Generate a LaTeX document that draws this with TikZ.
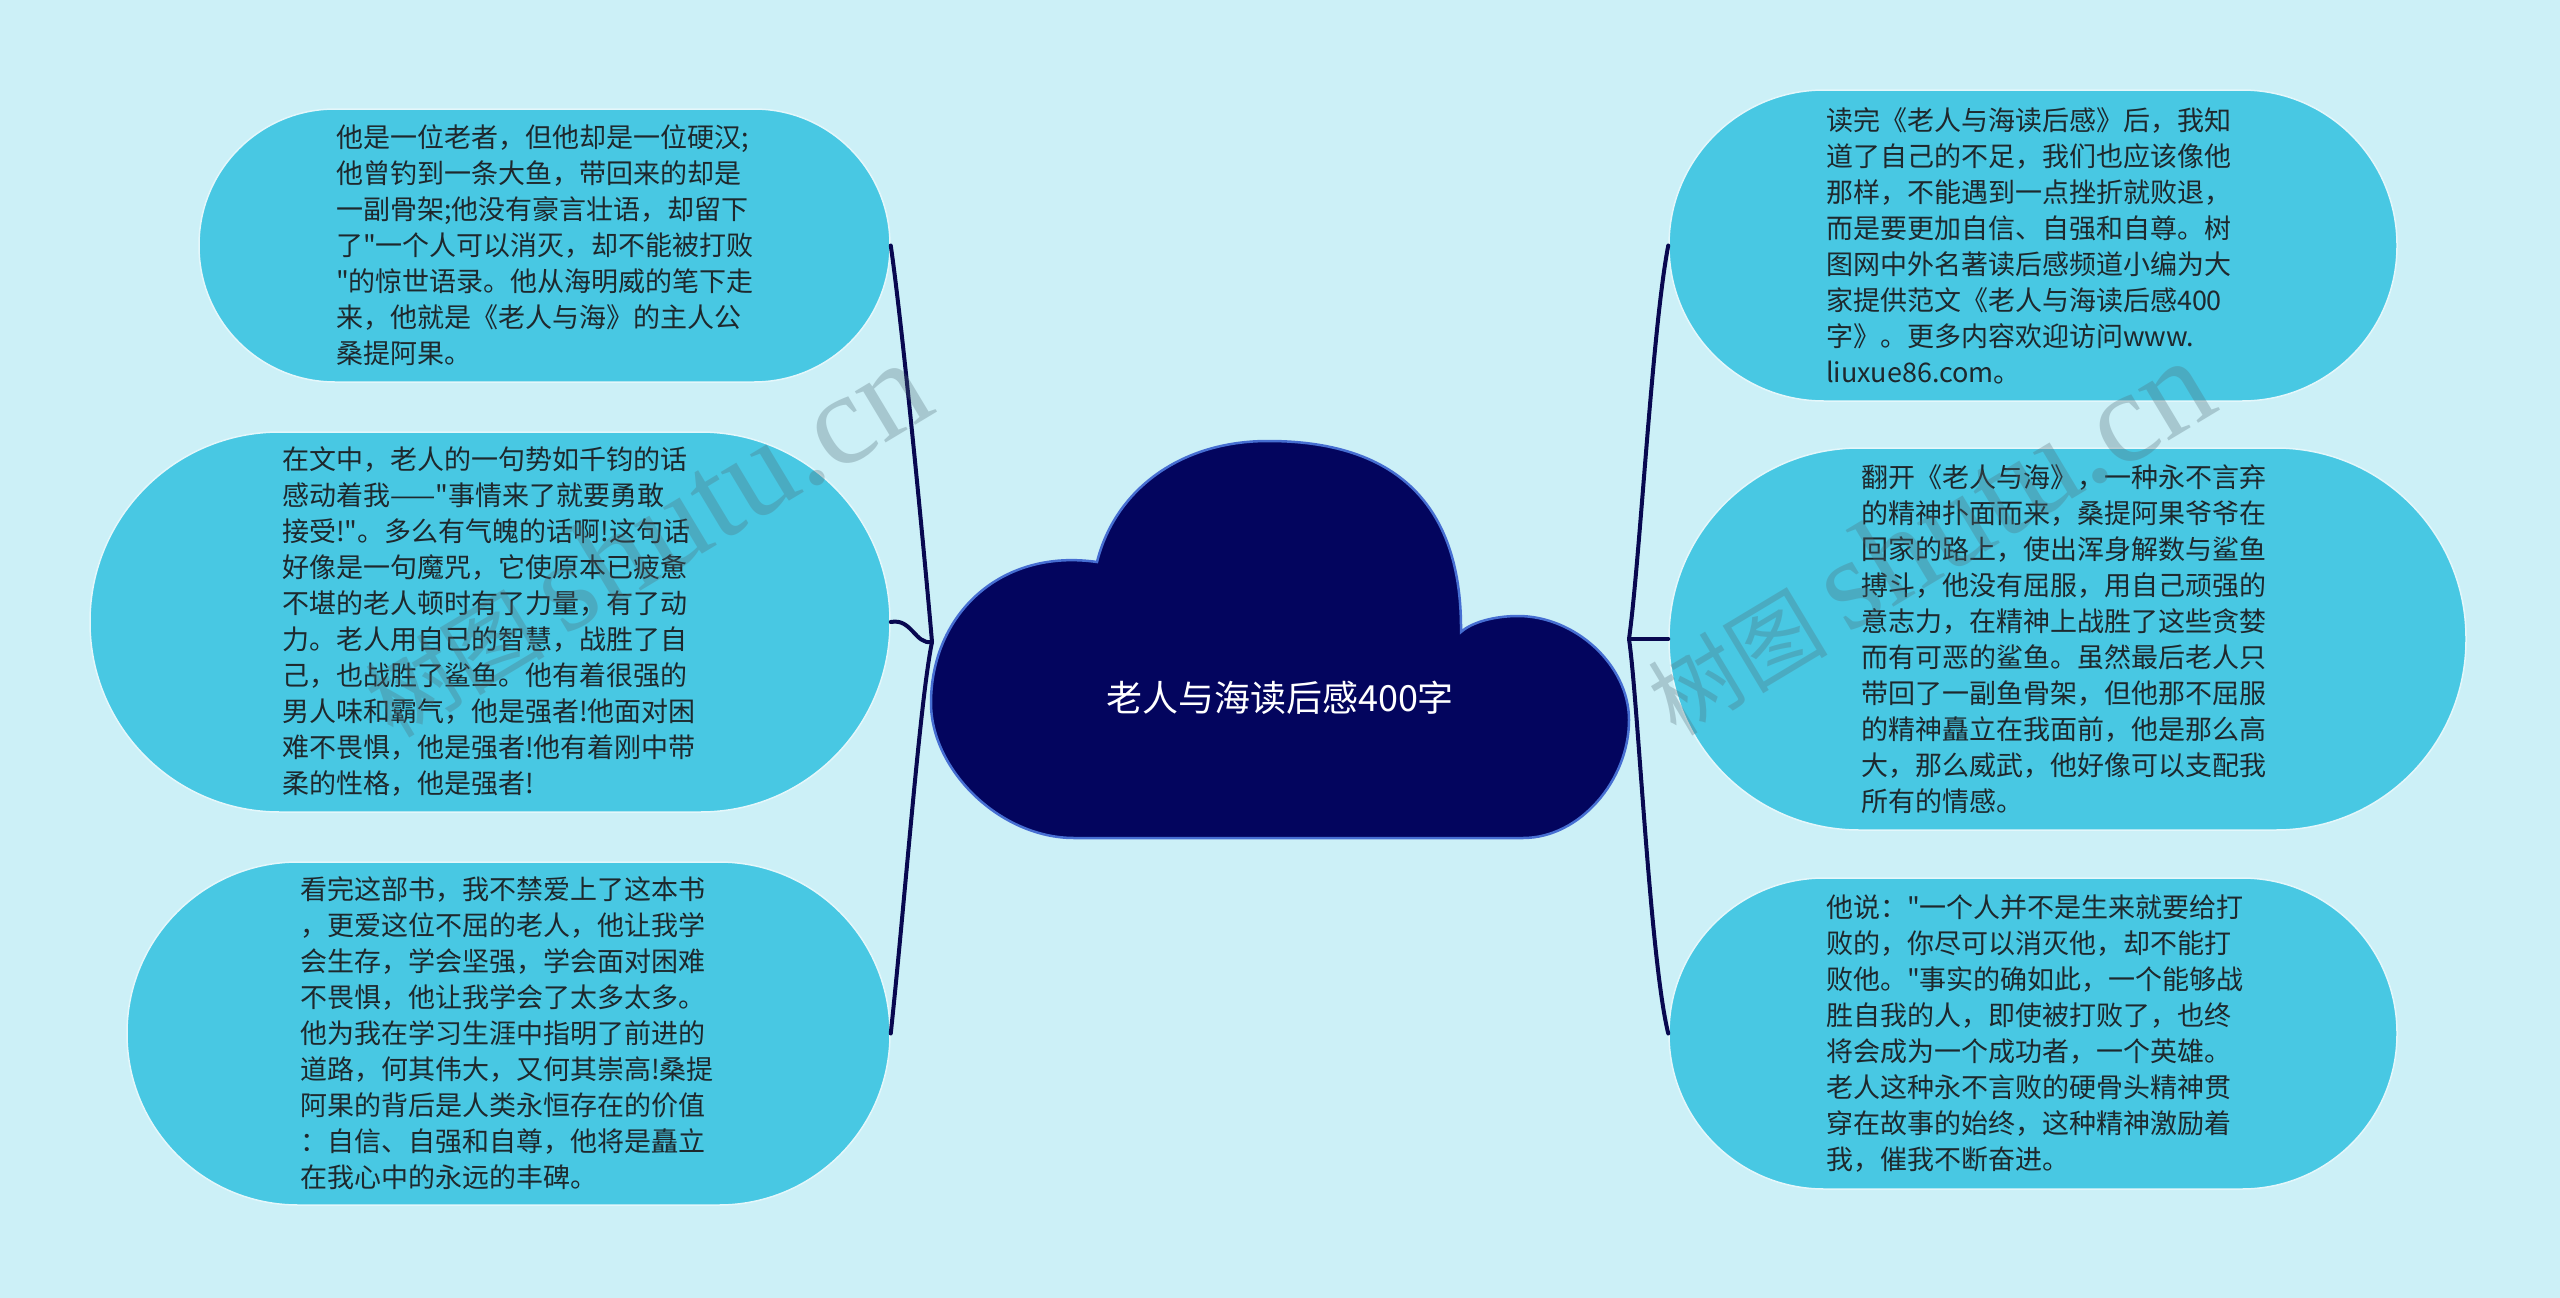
\documentclass[tikz,border=0pt]{standalone}
\usepackage{fontspec}
\setmainfont{Noto Sans CJK SC}
\newfontfamily\cjkf{Noto Sans CJK SC}
\newfontfamily\wmlatin{Liberation Serif}
\definecolor{bgc}{RGB}{204,240,247}
\definecolor{boxc}{RGB}{72,200,227}
\definecolor{boxedge}{RGB}{228,247,251}
\definecolor{cloudc}{RGB}{3,5,94}
\definecolor{cloudedge}{RGB}{70,110,210}
\definecolor{linec}{RGB}{8,8,80}
\definecolor{txtc}{RGB}{30,40,45}
\definecolor{wmc}{RGB}{80,105,115}
\begin{document}
\begin{tikzpicture}[x=1pt,y=-1pt,
  leaf/.style={draw=boxedge, line width=1.5pt, fill=boxc, text=txtc,
    font=\cjkf\fontsize{27}{36}\selectfont, align=left, inner sep=0pt},
  roottext/.style={text=white, font=\cjkf\fontsize{36}{42}\selectfont, inner sep=0pt},
  conn/.style={draw=linec, line width=4pt, line cap=round, line join=round},
  wm/.style={text=wmc, opacity=0.3, inner sep=0pt, rotate=31}]
\fill[bgc] (0,0) rectangle (2560,1298);
\useasboundingbox (0,0) rectangle (2560,1298);

% leaf boxes
\node[leaf, rounded corners=136pt, minimum width=691pt, minimum height=273pt, text width=417pt] (L1) at (544.5,245.5) {他是一位老者，但他却是一位硬汉;\\他曾钓到一条大鱼，带回来的却是\\一副骨架;他没有豪言壮语，却留下\\了"一个人可以消灭，却不能被打败\\"的惊世语录。他从海明威的笔下走\\来，他就是《老人与海》的主人公\\桑提阿果。};
\node[leaf, rounded corners=189.5pt, minimum width=800pt, minimum height=380pt, text width=416pt] (L2) at (490,622) {在文中，老人的一句势如千钧的话\\感动着我——"事情来了就要勇敢\\接受!"。多么有气魄的话啊!这句话\\好像是一句魔咒，它使原本已疲惫\\不堪的老人顿时有了力量，有了动\\力。老人用自己的智慧，战胜了自\\己，也战胜了鲨鱼。他有着很强的\\男人味和霸气，他是强者!他面对困\\难不畏惧，他是强者!他有着刚中带\\柔的性格，他是强者!};
\node[leaf, rounded corners=171pt, minimum width=763pt, minimum height=343pt, text width=417pt] (L3) at (508.5,1033.5) {看完这部书，我不禁爱上了这本书\\，更爱这位不屈的老人，他让我学\\会生存，学会坚强，学会面对困难\\不畏惧，他让我学会了太多太多。\\他为我在学习生涯中指明了前进的\\道路，何其伟大，又何其崇高!桑提\\阿果的背后是人类永恒存在的价值\\：自信、自强和自尊，他将是矗立\\在我心中的永远的丰碑。};
\node[leaf, rounded corners=155pt, minimum width=728pt, minimum height=311pt, text width=414pt] (R1) at (2033,245.5) {读完《老人与海读后感》后，我知\\道了自己的不足，我们也应该像他\\那样，不能遇到一点挫折就败退，\\而是要更加自信、自强和自尊。树\\图网中外名著读后感频道小编为大\\家提供范文《老人与海读后感400\\字》。更多内容欢迎访问www.\\liuxue86.com。};
\node[leaf, rounded corners=190pt, minimum width=797pt, minimum height=382pt, text width=413pt] (R2) at (2067.5,639) {翻开《老人与海》，一种永不言弃\\的精神扑面而来，桑提阿果爷爷在\\回家的路上，使出浑身解数与鲨鱼\\搏斗，他没有屈服，用自己顽强的\\意志力，在精神上战胜了这些贪婪\\而有可恶的鲨鱼。虽然最后老人只\\带回了一副鱼骨架，但他那不屈服\\的精神矗立在我面前，他是那么高\\大，那么威武，他好像可以支配我\\所有的情感。};
\node[leaf, rounded corners=155pt, minimum width=728pt, minimum height=311pt, text width=414pt] (R3) at (2033,1033.5) {他说："一个人并不是生来就要给打\\败的，你尽可以消灭他，却不能打\\败他。"事实的确如此，一个能够战\\胜自我的人，即使被打败了，也终\\将会成为一个成功者，一个英雄。\\老人这种永不言败的硬骨头精神贯\\穿在故事的始终，这种精神激励着\\我，催我不断奋进。};

% central cloud
\filldraw[fill=cloudc, draw=cloudedge, line width=2.5pt]
  (1074,838) -- (1523,838)
  .. controls (1580,838) and (1629,780) .. (1629,720)
  .. controls (1629,665) and (1575,616) .. (1518,616)
  .. controls (1495,616) and (1472,622) .. (1461,632)
  .. controls (1462,530) and (1420,441) .. (1268,441)
  .. controls (1180,441) and (1115,490) .. (1097,562)
  .. controls (1000,548) and (931,615) .. (931,703)
  .. controls (931,770) and (1000,838) .. (1074,838) -- cycle;
\node[roottext] (root) at (1280,698) {老人与海读后感400字};

% connectors
\coordinate (jl) at (932,642);
\coordinate (jr) at (1629,639);
\draw[conn] (L1.east) .. controls (903,330) and (925,560) .. (jl);
\draw[conn] (L2.east) .. controls (912,618) and (915,645) .. (jl);
\draw[conn] (L3.east) .. controls (905,900) and (920,700) .. (jl);
\draw[conn] (R1.west) .. controls (1652,330) and (1640,560) .. (jr);
\draw[conn] (R2.west) -- (jr);
\draw[conn] (R3.west) .. controls (1650,960) and (1638,700) .. (jr);

% watermarks
\node[wm] (wmL) at (645,540) {\cjkf\fontsize{90}{90}\selectfont 树图 {\wmlatin\fontsize{130}{130}\selectfont shutu.cn}};
\node[wm] (wmR) at (1928,538) {\cjkf\fontsize{90}{90}\selectfont 树图 {\wmlatin\fontsize{130}{130}\selectfont shutu.cn}};
\end{tikzpicture}
\end{document}
